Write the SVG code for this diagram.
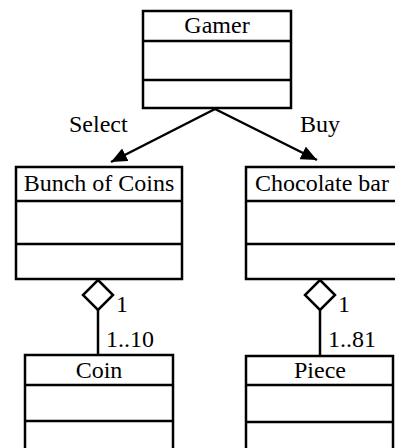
<svg xmlns="http://www.w3.org/2000/svg" width="395" height="448" viewBox="0 0 395 448">
  <style>
    .box { fill: #fff; stroke: #000; stroke-width: 2.5; }
    .sep { stroke: #000; stroke-width: 2.5; }
    .edge { stroke: #000; stroke-width: 2.5; fill: none; }
    .dia { fill: #fff; stroke: #000; stroke-width: 2.5; stroke-linejoin: miter; }
    text { font-family: "Liberation Serif", "Times New Roman", serif; font-size: 24px; fill: #000; }
    .c { text-anchor: middle; }
  </style>
  <defs>
    <marker id="arrow" markerUnits="userSpaceOnUse" markerWidth="18" markerHeight="14" refX="16" refY="7" orient="auto">
      <path d="M0,0 L16,7 L0,14 Z" fill="#000"/>
    </marker>
  </defs>

  <rect width="395" height="448" fill="#fff"/>

  <!-- connectors -->
  <g id="connectors">
    <line class="edge" x1="215" y1="109" x2="111" y2="162" marker-end="url(#arrow)"/>
    <line class="edge" x1="215" y1="109" x2="317" y2="160" marker-end="url(#arrow)"/>
    <text x="69" y="132">Select</text>
    <text x="300" y="132">Buy</text>

    <line class="edge" x1="98" y1="309" x2="98" y2="355"/>
    <path class="dia" d="M98,280 L113,295 L98,310 L83,295 Z"/>
    <text x="116" y="312">1</text>
    <text x="106" y="347">1..10</text>

    <line class="edge" x1="320" y1="309" x2="320" y2="356"/>
    <path class="dia" d="M320,280 L335,295 L320,310 L305,295 Z"/>
    <text x="338" y="312">1</text>
    <text x="328" y="347">1..81</text>
  </g>

  <!-- Gamer -->
  <g id="gamer">
    <rect class="box" x="143" y="11" width="148" height="97"/>
    <line class="sep" x1="143" y1="41" x2="291" y2="41"/>
    <line class="sep" x1="143" y1="80" x2="291" y2="80"/>
    <text class="c" x="217" y="33">Gamer</text>
  </g>

  <!-- Bunch of Coins -->
  <g id="bunch">
    <rect class="box" x="16" y="167" width="166" height="112"/>
    <line class="sep" x1="16" y1="201" x2="182" y2="201"/>
    <line class="sep" x1="16" y1="244" x2="182" y2="244"/>
    <text class="c" x="99" y="191">Bunch of Coins</text>
  </g>

  <!-- Chocolate bar -->
  <g id="chocolate">
    <rect class="box" x="246" y="167" width="160" height="112"/>
    <line class="sep" x1="246" y1="201" x2="406" y2="201"/>
    <line class="sep" x1="246" y1="244" x2="406" y2="244"/>
    <text x="255" y="191">Chocolate bar</text>
  </g>

  <!-- Coin -->
  <g id="coin">
    <rect class="box" x="25" y="355" width="148" height="110"/>
    <line class="sep" x1="25" y1="385" x2="173" y2="385"/>
    <line class="sep" x1="25" y1="421" x2="173" y2="421"/>
    <text class="c" x="99" y="378">Coin</text>
  </g>

  <!-- Piece -->
  <g id="piece">
    <rect class="box" x="246" y="356" width="147" height="110"/>
    <line class="sep" x1="246" y1="385" x2="393" y2="385"/>
    <line class="sep" x1="246" y1="422" x2="393" y2="422"/>
    <text class="c" x="320" y="378">Piece</text>
  </g>
</svg>
